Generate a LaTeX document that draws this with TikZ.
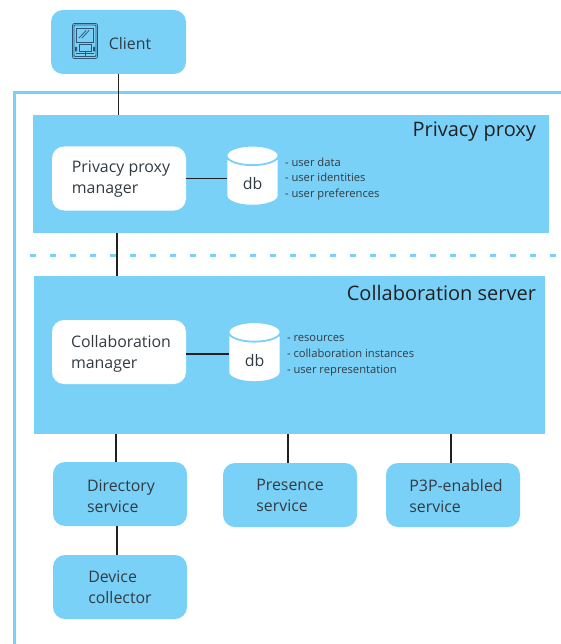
\documentclass[tikz,border=0pt]{standalone}
\usepackage{fontspec}
\setmainfont{Open Sans}
\usetikzlibrary{calc,shapes.geometric}

\definecolor{panelblue}{HTML}{7AD1F7}
\definecolor{linedark}{HTML}{231F20}
\definecolor{textdark}{HTML}{333B42}
\definecolor{icondark}{HTML}{2B5573}

\newcommand{\dropped}[2][2pt]{\raisebox{-#1}[\height][\depth]{#2}}

\tikzset{
    panel/.style={fill=panelblue, minimum width=#1},
    box/.style={fill=panelblue, rounded corners=12pt, minimum width=134pt, minimum height=64pt, align=left, text=textdark, font=\fontsize{15.9}{21}\selectfont},
    whitebox/.style={box, fill=white},
    title/.style={anchor=east, text=linedark, font=\fontsize{20}{25}\selectfont},
    db/.style={cylinder, shape border rotate=90, aspect=1, draw=panelblue, line width=1.8pt, cylinder uses custom fill, cylinder body fill=white, cylinder end fill=white, minimum width=52pt, minimum height=60pt, text=textdark, font=\fontsize{15.9}{20}\selectfont},
    notes/.style={anchor=west, align=left, text=textdark, font=\fontsize{11.2}{15.8}\selectfont},
    conn/.style={draw=linedark, line width=1.7pt},
    frame/.style={draw=panelblue, line width=3pt}
}

\begin{document}
\begin{tikzpicture}[inner sep=0pt,outer sep=0pt,x=1pt,y=-1pt]
    \useasboundingbox (0,0) rectangle (561,644);

    % frame and separator
    \coordinate (frame_top) at (561,92.5);
    \coordinate (frame_corner) at (14,92.5);
    \coordinate (frame_bottom) at (14,644);
    \coordinate (sep_left) at (14,255.5);
    \coordinate (sep_right) at (561,255.5);
    \draw[frame] (frame_top) -- (frame_corner) -- (frame_bottom);
    \draw[frame, dash pattern=on 6pt off 14pt, dash phase=4pt] (sep_left) -- (sep_right);

    % client
    \node[box, minimum height=64pt, minimum width=135pt, text=textdark] (client) at (118.5,42) {\hspace*{23pt}\dropped{Client}};

    % client icon
    \begin{scope}[shift={(72,23)}, draw=icondark, line width=0.8pt]
        \draw[rounded corners=2pt] (0.5,0.5) rectangle (25.5,35.5);
        \draw[rounded corners=1pt] (2,2) rectangle (24,33.5);
        \draw (4.5,5) rectangle (21,19);
        \draw (7,15) -- (14,7.5) (10,15) -- (17,7.5);
        \draw (7,21.5) rectangle (19,28.5);
        \fill[icondark] (3,24) rectangle (5,28.5) (21,24) rectangle (23,28.5);
        \draw (4,30.5) -- (22,30.5);
        \draw (13,28.5) -- (13,34);
    \end{scope}

    % privacy proxy
    \node[panel=516pt, minimum height=118pt] (privacy_proxy) at (291,174) {};
    \node[title] (privacy_proxy_cap) at ($(privacy_proxy.north east) + (-13,17)$) {Privacy proxy};
    \node[whitebox] (privacy_manager) at (119,178.5) {\hspace*{4pt}\dropped[1pt]{Privacy proxy}\\\hspace*{4pt}\dropped[1pt]{manager}};
    \node[db] (privacy_db) at (252.5,181) {\dropped[3pt]{db}};
    \node[notes] (privacy_notes) at (285,179) {- user data\\- user identities\\- user preferences};

    % collaboration server
    \node[panel=511pt, minimum height=158pt] (collaboration_server) at (289.5,355) {};
    \node[title] (collaboration_server_cap) at ($(collaboration_server.north east) + (-9,17)$) {Collaboration server};
    \node[whitebox] (collaboration_manager) at (119,352) {\hspace*{4pt}\dropped{Collaboration}\\\hspace*{4pt}\dropped{manager}};
    \node[db] (collaboration_db) at (254.5,357.5) {\dropped[3pt]{db}};
    \node[notes] (collaboration_notes) at (287,356) {- resources\\- collaboration instances\\- user representation};

    % services
    \node[box] (directory) at (120,494) {\hspace*{2pt}\dropped{Directory}\\\hspace*{2pt}\dropped{service}};
    \node[box] (presence) at (290,495) {Presence\\service};
    \node[box] (p3p) at (453,495) {\hspace*{6pt}\dropped[1pt]{P3P-enabled}\\\hspace*{6pt}\dropped[1pt]{service}};
    \node[box] (device) at (120,587) {Device\\collector};

    % connectors
    \draw[conn] (client.south) -- (client.south |- privacy_proxy.north);
    \draw[conn] ([xshift=-2pt]privacy_manager.south |- privacy_proxy.south) -- ([xshift=-2pt]privacy_manager.south |- collaboration_server.north);
    \draw[conn] (privacy_manager.east) -- (privacy_manager.east -| privacy_db.west);
    \draw[conn] ([yshift=-2pt]collaboration_manager.east) -- ([yshift=-2pt]collaboration_manager.east -| collaboration_db.west);
    \draw[conn] ([xshift=-4pt]directory.north |- collaboration_server.south) -- ([xshift=-4pt]directory.north);
    \draw[conn] ([xshift=-2pt]presence.north |- collaboration_server.south) -- ([xshift=-2pt]presence.north);
    \draw[conn] ([xshift=-2pt]p3p.north |- collaboration_server.south) -- ([xshift=-2pt]p3p.north);
    \draw[conn] ([xshift=-3pt]directory.south) -- ([xshift=-3pt]device.north);
\end{tikzpicture}
\end{document}
